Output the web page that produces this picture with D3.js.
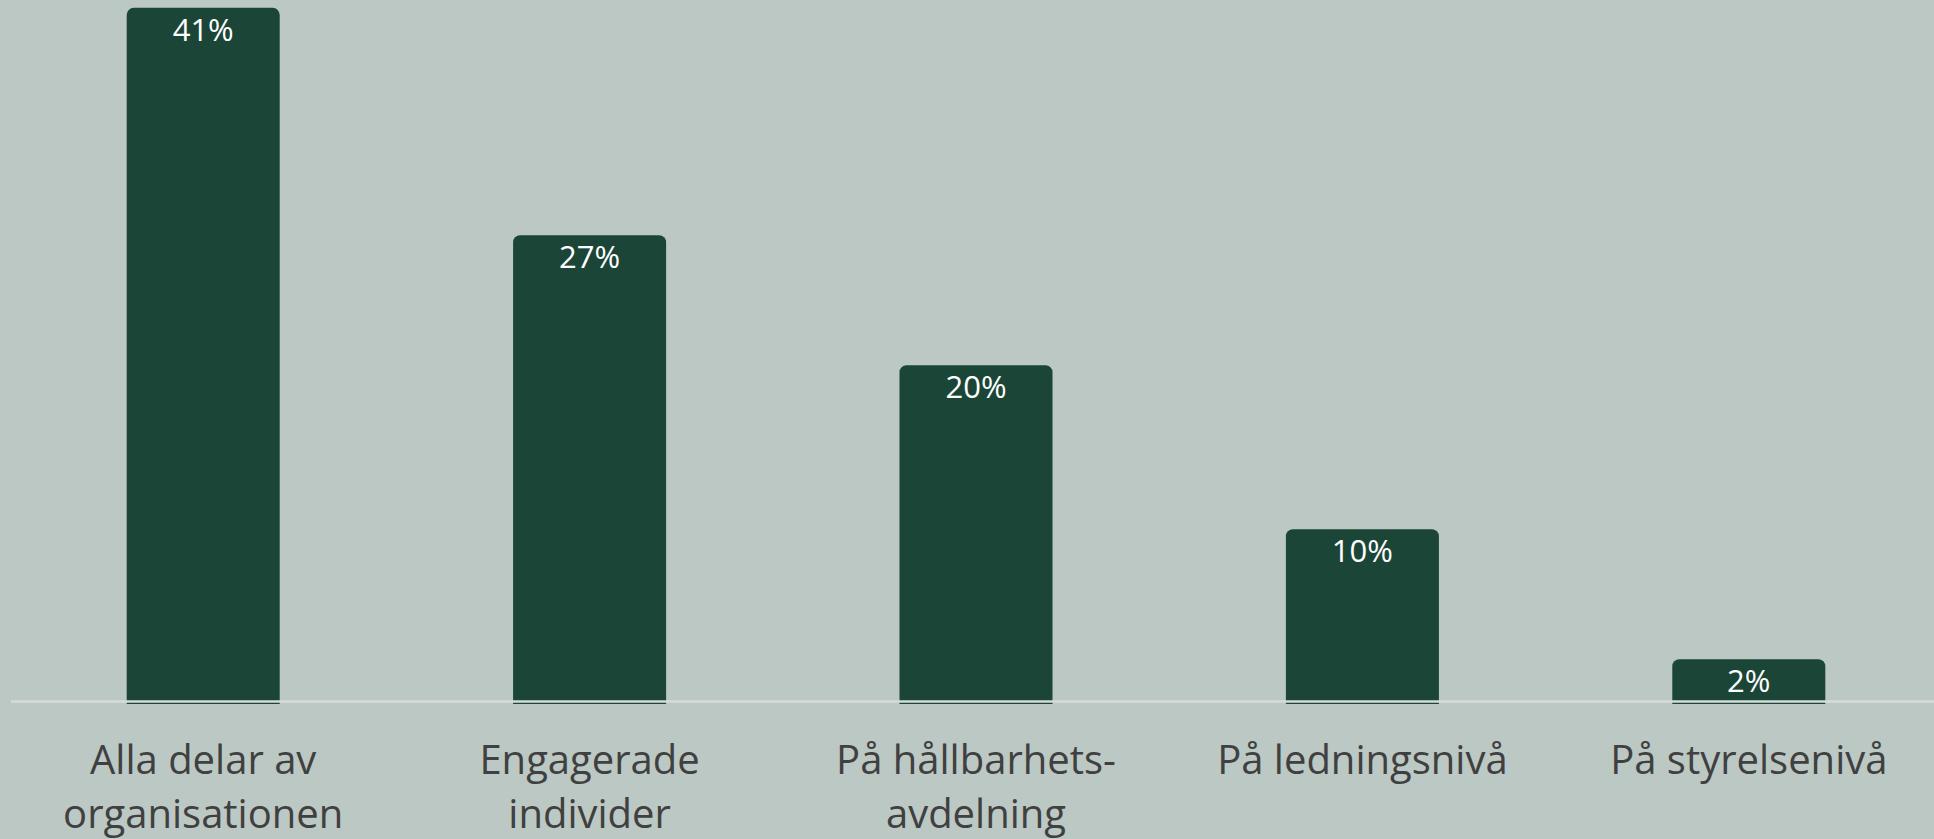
<!DOCTYPE html>
<html>
<head>
<meta charset="utf-8">
<script src="https://cdn.jsdelivr.net/npm/d3@7"></script>
<style>
  html, body { margin: 0; padding: 0; background: #bcc8c3; }
  svg { display: block; }
</style>
</head>
<body>
<svg id="chart" width="1934" height="839"></svg>
<script>
// ---- data ----
const categories = ["Alla delar av organisationen", "Engagerade individer", "På hållbarhets-avdelning", "På ledningsnivå", "På styrelsenivå"];
const categoryLines = [
  ["Alla delar av", "organisationen"],
  ["Engagerade", "individer"],
  ["På hållbarhets-", "avdelning"],
  ["På ledningsnivå"],
  ["På styrelsenivå"]
];
const values = [40.6, 27.3, 19.7, 10.1, 2.5];
const valueLabels = ["41%", "27%", "20%", "10%", "2%"];

// ---- layout ----
const W = 1934, H = 839;
const svg = d3.select("#chart");
const fontFam = "'Open Sans', 'Noto Sans', 'DejaVu Sans', sans-serif";

const x = d3.scaleBand().domain(categories).range([10, 1942]).paddingInner(0.604).paddingOuter(0.302);
const y = d3.scaleLinear().domain([0, 41]).range([702, 1]);

const r = 7;
function barPath(cat, v) {
  const x0 = x(cat), x1 = x0 + x.bandwidth();
  const top = y(v), bottom = y(0) + 2;
  const p = d3.path();
  p.moveTo(x0, bottom);
  p.lineTo(x0, top + r);
  p.arcTo(x0, top, x0 + r, top, r);
  p.lineTo(x1 - r, top);
  p.arcTo(x1, top, x1, top + r, r);
  p.lineTo(x1, bottom);
  p.closePath();
  return p.toString();
}

const data = categories.map((c, i) => ({ c, v: values[i], label: valueLabels[i], lines: categoryLines[i] }));

svg.append("g").selectAll("path").data(data).join("path")
  .attr("d", d => barPath(d.c, d.v))
  .attr("fill", "#1b4637");

// baseline axis
svg.append("line")
  .attr("x1", 11).attr("x2", W)
  .attr("y1", y(0) - 0.5).attr("y2", y(0) - 0.5)
  .attr("stroke", "#d6dbd8").attr("stroke-width", 2.5);

// value labels
svg.append("g").selectAll("text").data(data).join("text")
  .attr("x", d => x(d.c) + x.bandwidth() / 2)
  .attr("y", d => y(d.v) + 33)
  .attr("text-anchor", "middle")
  .attr("fill", "#ffffff")
  .attr("font-family", fontFam)
  .attr("font-size", 31)
  .text(d => d.label);

// category labels
const lab = svg.append("g").selectAll("text").data(data).join("text")
  .attr("x", d => x(d.c) + x.bandwidth() / 2)
  .attr("y", 774)
  .attr("text-anchor", "middle")
  .attr("fill", "#404040")
  .attr("font-family", fontFam)
  .attr("font-size", 40);
lab.selectAll("tspan").data(d => d.lines.map((t, i) => ({ t, i, cx: x(d.c) + x.bandwidth() / 2 }))).join("tspan")
  .attr("x", t => t.cx)
  .attr("y", t => 774 + t.i * 54)
  .text(t => t.t);
</script>
</body>
</html>
